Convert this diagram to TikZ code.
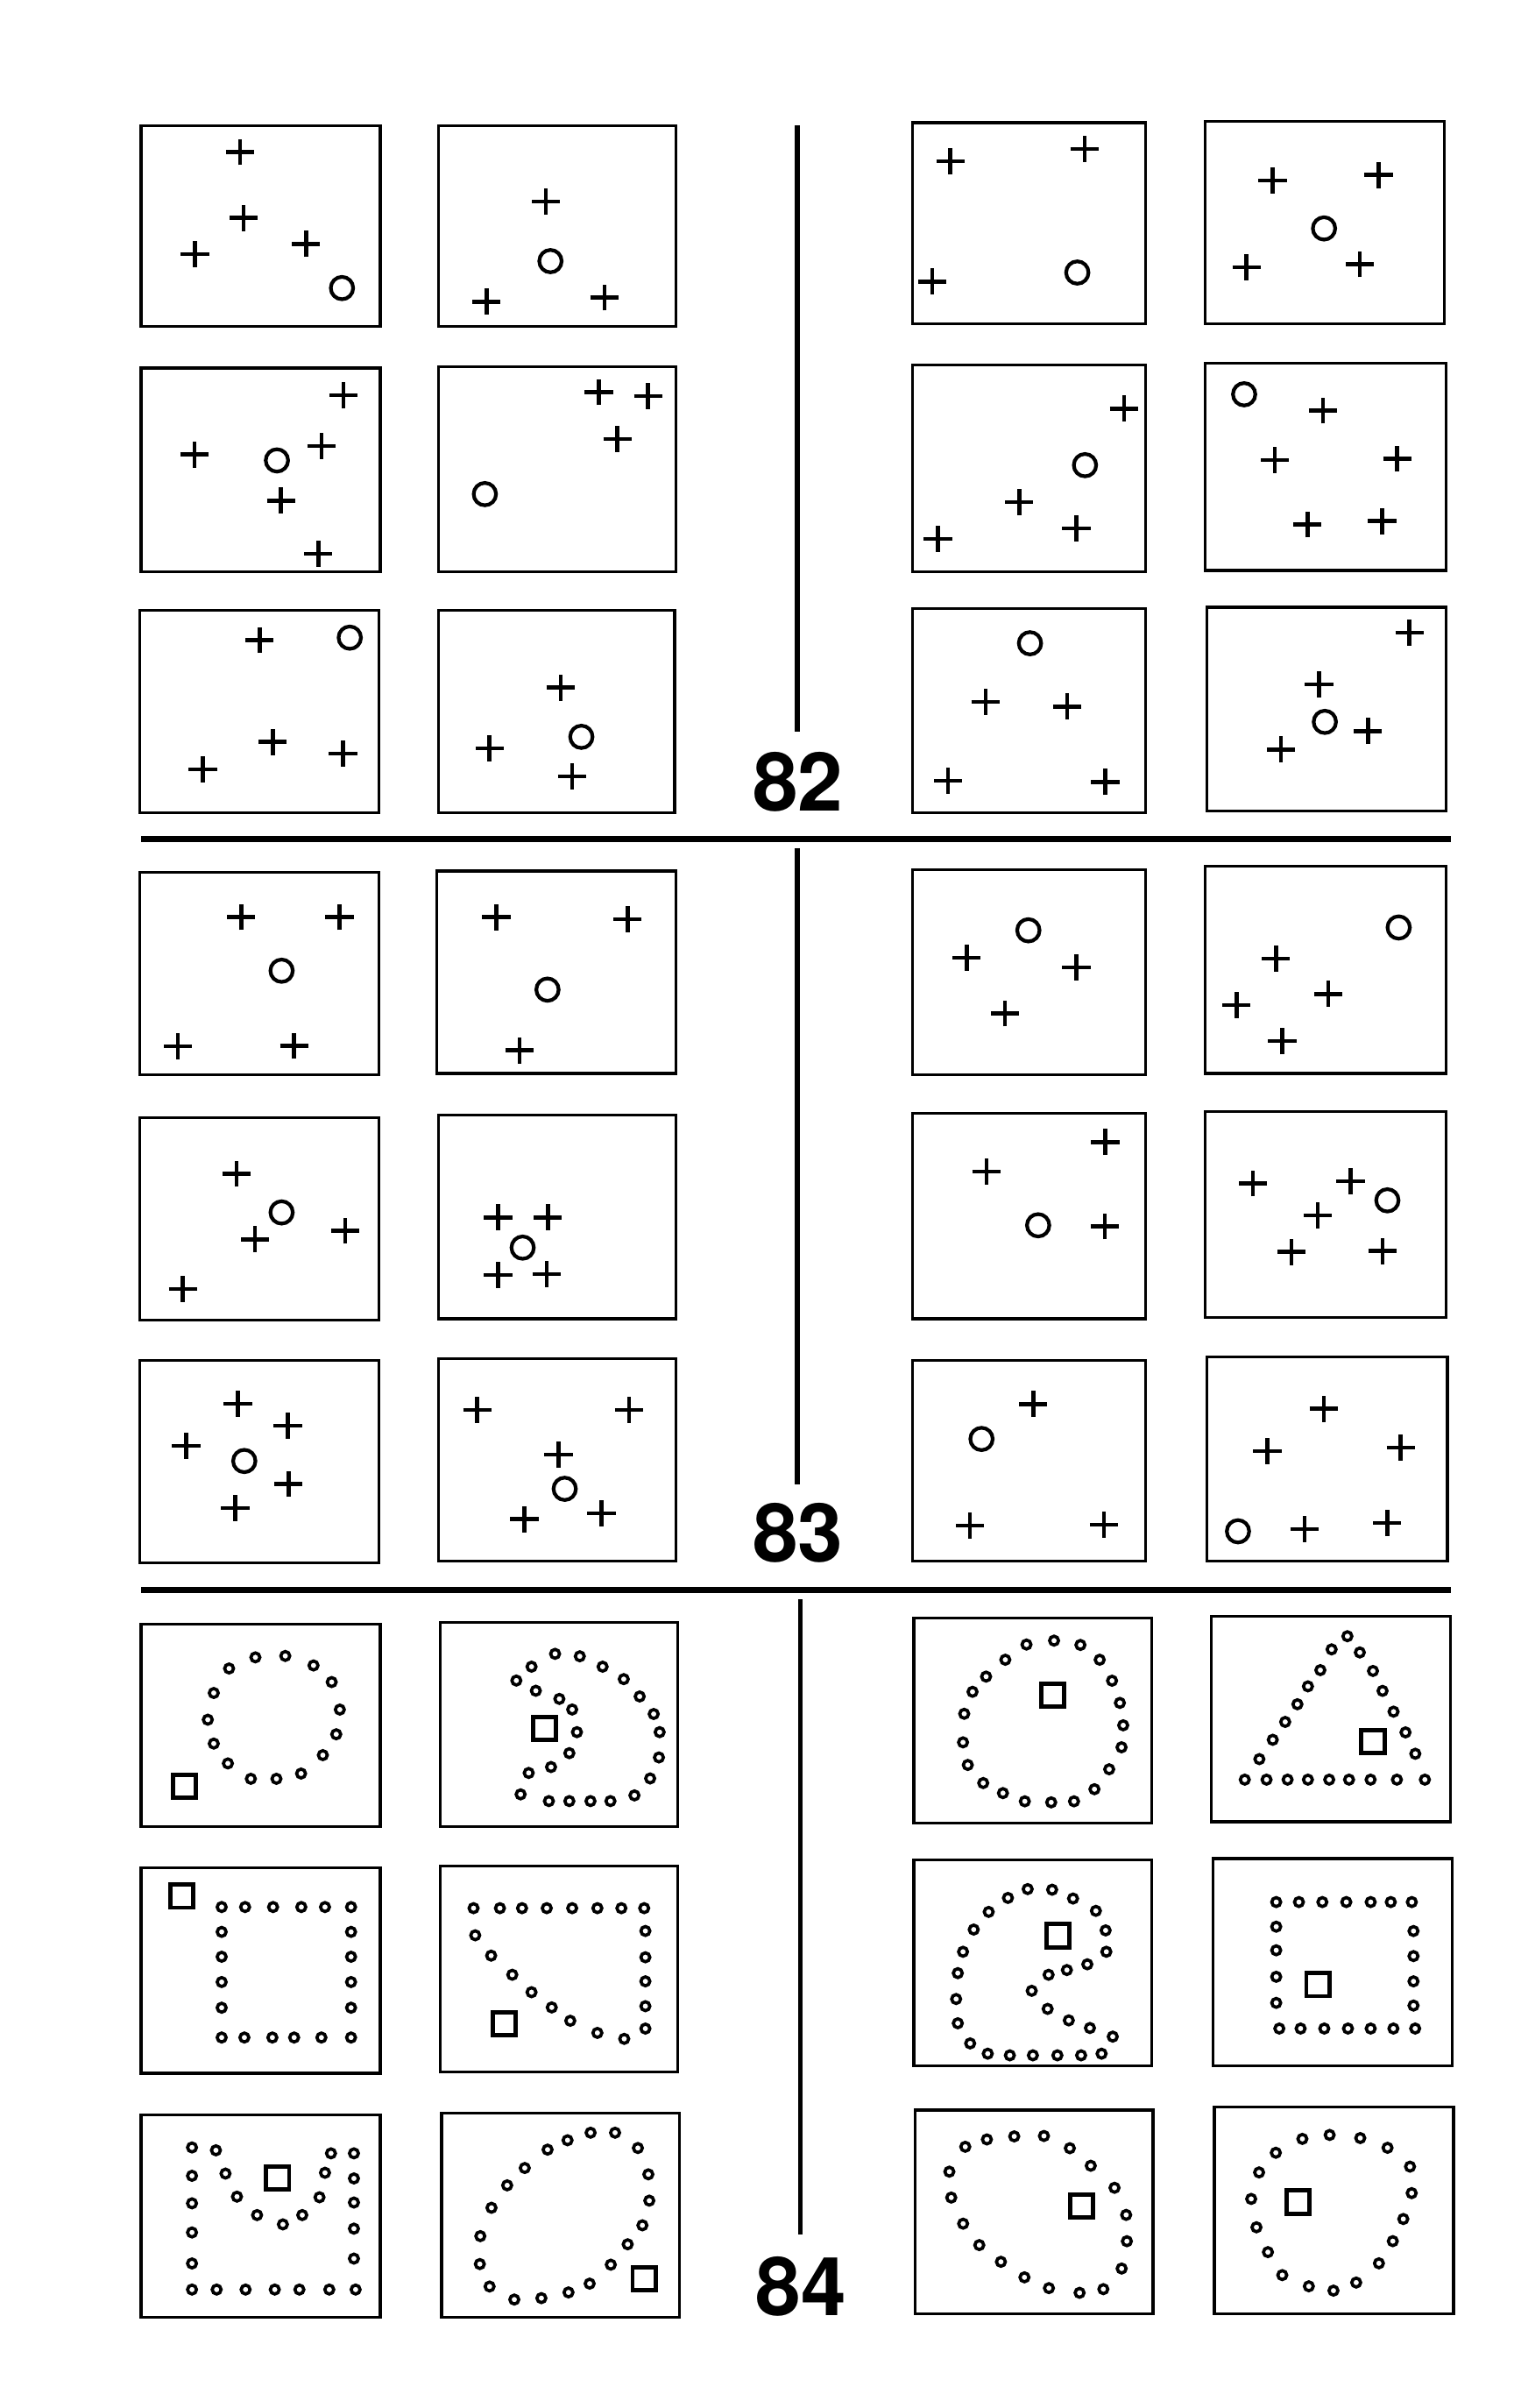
\documentclass[tikz,border=0pt]{standalone}
\usepackage{fontspec}
\newfontfamily\numfont{TeX Gyre Heros}
\usepackage{tikz}

\begin{document}
\begin{tikzpicture}[x=1pt,y=-1pt,
  panel/.style n args={4}{shift={(#1,#2)},x={(#3pt,0pt)},y={(0pt,-#4pt)}},
  boxline/.style={line width=1.8pt},
  ring/.style={line width=2.4pt},
  dot/.style={line width=2.1pt},
  sqmark/.style={line width=2.8pt},
  divider/.style={line width=3pt},
  sepline/.style={line width=3.8pt},
  num/.style={font=\numfont\bfseries\fontsize{53pt}{53pt}\selectfont,inner sep=0pt},
  plusmark/.pic={\draw[line width=2.6pt] (-9.2pt,0pt) -- (9.2pt,0pt) (0pt,-8.5pt) -- (0pt,8.5pt);}]
\useasboundingbox (0,0) rectangle (987.4,1570.3);

% problem 82
\begin{scope}[panel={92}{82}{156}{131}]
\draw[boxline] (0,0) rectangle (1,1);
\foreach \u/\v in {0.414/0.131,0.429/0.459,0.225/0.640,0.690/0.588} \pic at (\u,\v) {plusmark};
\draw[ring] (0.840,0.808) circle (7.3pt);
\end{scope}
\begin{scope}[panel={286}{82}{155}{131}]
\draw[boxline] (0,0) rectangle (1,1);
\foreach \u/\v in {0.452/0.378,0.202/0.876,0.698/0.855} \pic at (\u,\v) {plusmark};
\draw[ring] (0.471,0.674) circle (7.3pt);
\end{scope}
\begin{scope}[panel={595}{80}{152}{131}]
\draw[boxline] (0,0) rectangle (1,1);
\foreach \u/\v in {0.163/0.191,0.739/0.130,0.086/0.791} \pic at (\u,\v) {plusmark};
\draw[ring] (0.708,0.746) circle (7.3pt);
\end{scope}
\begin{scope}[panel={786}{79}{156}{132}]
\draw[boxline] (0,0) rectangle (1,1);
\foreach \u/\v in {0.282/0.293,0.725/0.266,0.173/0.722,0.646/0.707} \pic at (\u,\v) {plusmark};
\draw[ring] (0.497,0.530) circle (7.3pt);
\end{scope}

\begin{scope}[panel={92}{240}{156}{133}]
\draw[boxline] (0,0) rectangle (1,1);
\foreach \u/\v in {0.846/0.134,0.223/0.424,0.754/0.382,0.585/0.650,0.741/0.911} \pic at (\u,\v) {plusmark};
\draw[ring] (0.568,0.453) circle (7.3pt);
\end{scope}
\begin{scope}[panel={286}{239}{155}{134}]
\draw[boxline] (0,0) rectangle (1,1);
\foreach \u/\v in {0.675/0.125,0.882/0.143,0.753/0.353} \pic at (\u,\v) {plusmark};
\draw[ring] (0.195,0.621) circle (7.3pt);
\end{scope}
\begin{scope}[panel={595}{238}{152}{135}]
\draw[boxline] (0,0) rectangle (1,1);
\foreach \u/\v in {0.908/0.211,0.459/0.662,0.704/0.789,0.110/0.840} \pic at (\u,\v) {plusmark};
\draw[ring] (0.741,0.484) circle (7.3pt);
\end{scope}
\begin{scope}[panel={786}{237}{157}{135}]
\draw[boxline] (0,0) rectangle (1,1);
\foreach \u/\v in {0.489/0.227,0.289/0.467,0.798/0.460,0.425/0.778,0.735/0.762} \pic at (\u,\v) {plusmark};
\draw[ring] (0.162,0.149) circle (7.3pt);
\end{scope}

\begin{scope}[panel={91}{398}{156}{132}]
\draw[boxline] (0,0) rectangle (1,1);
\foreach \u/\v in {0.502/0.147,0.557/0.650,0.851/0.707,0.265/0.786} \pic at (\u,\v) {plusmark};
\draw[ring] (0.879,0.135) circle (7.3pt);
\end{scope}
\begin{scope}[panel={286}{398}{154}{132}]
\draw[boxline] (0,0) rectangle (1,1);
\foreach \u/\v in {0.517/0.382,0.216/0.681,0.566/0.820} \pic at (\u,\v) {plusmark};
\draw[ring] (0.605,0.625) circle (7.3pt);
\end{scope}
\begin{scope}[panel={595}{397}{152}{133}]
\draw[boxline] (0,0) rectangle (1,1);
\foreach \u/\v in {0.314/0.457,0.665/0.479,0.154/0.843,0.828/0.849} \pic at (\u,\v) {plusmark};
\draw[ring] (0.505,0.169) circle (7.3pt);
\end{scope}
\begin{scope}[panel={787}{396}{156}{133}]
\draw[boxline] (0,0) rectangle (1,1);
\foreach \u/\v in {0.848/0.124,0.470/0.378,0.674/0.607,0.310/0.697} \pic at (\u,\v) {plusmark};
\draw[ring] (0.494,0.562) circle (7.3pt);
\end{scope}

\node[num] (n82) at (520.5,510) {82};
\coordinate (v82) at (520,82);
\draw[divider] (v82) -- ([yshift=13pt]n82.north -| v82);
\draw[sepline] (92,547) -- (946,547);

% problem 83
\begin{scope}[panel={91}{569}{156}{132}]
\draw[boxline] (0,0) rectangle (1,1);
\foreach \u/\v in {0.425/0.220,0.836/0.220,0.161/0.858,0.646/0.856} \pic at (\u,\v) {plusmark};
\draw[ring] (0.594,0.485) circle (7.3pt);
\end{scope}
\begin{scope}[panel={285}{568}{156}{132}]
\draw[boxline] (0,0) rectangle (1,1);
\foreach \u/\v in {0.248/0.228,0.797/0.239,0.345/0.886} \pic at (\u,\v) {plusmark};
\draw[ring] (0.462,0.586) circle (7.3pt);
\end{scope}
\begin{scope}[panel={595}{567}{152}{134}]
\draw[boxline] (0,0) rectangle (1,1);
\foreach \u/\v in {0.233/0.429,0.704/0.476,0.398/0.700} \pic at (\u,\v) {plusmark};
\draw[ring] (0.498,0.296) circle (7.3pt);
\end{scope}
\begin{scope}[panel={786}{565}{157}{135}]
\draw[boxline] (0,0) rectangle (1,1);
\foreach \u/\v in {0.294/0.446,0.512/0.616,0.130/0.670,0.320/0.844} \pic at (\u,\v) {plusmark};
\draw[ring] (0.804,0.295) circle (7.3pt);
\end{scope}

\begin{scope}[panel={91}{729}{156}{132}]
\draw[boxline] (0,0) rectangle (1,1);
\foreach \u/\v in {0.406/0.276,0.483/0.600,0.860/0.557,0.181/0.845} \pic at (\u,\v) {plusmark};
\draw[ring] (0.594,0.467) circle (7.3pt);
\end{scope}
\begin{scope}[panel={286}{727}{155}{133}]
\draw[boxline] (0,0) rectangle (1,1);
\foreach \u/\v in {0.251/0.503,0.460/0.503,0.251/0.785,0.455/0.781} \pic at (\u,\v) {plusmark};
\draw[ring] (0.354,0.651) circle (7.3pt);
\end{scope}
\begin{scope}[panel={595}{726}{152}{134}]
\draw[boxline] (0,0) rectangle (1,1);
\foreach \u/\v in {0.828/0.140,0.318/0.284,0.826/0.550} \pic at (\u,\v) {plusmark};
\draw[ring] (0.540,0.545) circle (7.3pt);
\end{scope}
\begin{scope}[panel={786}{725}{157}{134}]
\draw[boxline] (0,0) rectangle (1,1);
\foreach \u/\v in {0.199/0.349,0.604/0.338,0.468/0.504,0.359/0.682,0.737/0.678} \pic at (\u,\v) {plusmark};
\draw[ring] (0.757,0.431) circle (7.3pt);
\end{scope}

\begin{scope}[panel={91}{887}{156}{132}]
\draw[boxline] (0,0) rectangle (1,1);
\foreach \u/\v in {0.411/0.215,0.620/0.324,0.195/0.423,0.623/0.611,0.400/0.731} \pic at (\u,\v) {plusmark};
\draw[ring] (0.438,0.498) circle (7.3pt);
\end{scope}
\begin{scope}[panel={286}{886}{155}{132}]
\draw[boxline] (0,0) rectangle (1,1);
\foreach \u/\v in {0.163/0.254,0.802/0.254,0.505/0.474,0.361/0.793,0.686/0.764} \pic at (\u,\v) {plusmark};
\draw[ring] (0.531,0.643) circle (7.3pt);
\end{scope}
\begin{scope}[panel={595}{887}{152}{131}]
\draw[boxline] (0,0) rectangle (1,1);
\foreach \u/\v in {0.519/0.218,0.248/0.823,0.822/0.819} \pic at (\u,\v) {plusmark};
\draw[ring] (0.297,0.392) circle (7.3pt);
\end{scope}
\begin{scope}[panel={787}{885}{157}{133}]
\draw[boxline] (0,0) rectangle (1,1);
\foreach \u/\v in {0.486/0.253,0.252/0.461,0.806/0.444,0.406/0.843,0.750/0.814} \pic at (\u,\v) {plusmark};
\draw[ring] (0.130,0.854) circle (7.3pt);
\end{scope}

\node[num] (n83) at (520.5,999.5) {83};
\coordinate (v83) at (520,553);
\draw[divider] (v83) -- ([yshift=12pt]n83.north -| v83);
\draw[sepline] (92,1037) -- (946,1037);

% problem 84
\begin{scope}[panel={92}{1059}{156}{132}]
\draw[boxline] (0,0) rectangle (1,1);
\foreach \u/\v in {0.368/0.220,0.478/0.165,0.603/0.158,0.721/0.205,0.797/0.287,0.831/0.423,0.816/0.545,0.760/0.648,
  0.669/0.739,0.566/0.765,0.459/0.765,0.363/0.689,0.304/0.591,0.279/0.473,0.304/0.341}
  \draw[dot] (\u,\v) circle (2.9pt);
\draw[sqmark] (0.182,0.802) ++(-7.5pt,-7.5pt) rectangle ++(15pt,15pt);
\end{scope}
\begin{scope}[panel={287}{1058}{155}{133}]
\draw[boxline] (0,0) rectangle (1,1);
\foreach \u/\v in {0.321/0.285,0.385/0.217,0.484/0.154,0.588/0.166,0.684/0.217,0.773/0.278,0.840/0.363,0.899/0.449,
  0.924/0.538,0.921/0.662,0.884/0.765,0.818/0.848,0.717/0.876,0.633/0.876,0.544/0.876,0.458/0.876,0.339/0.843,
  0.373/0.738,0.467/0.709,0.544/0.641,0.576/0.538,0.556/0.427,0.502/0.375,0.403/0.335}
  \draw[dot] (\u,\v) circle (2.9pt);
\draw[sqmark] (0.439,0.521) ++(-7.5pt,-7.5pt) rectangle ++(15pt,15pt);
\end{scope}
\begin{scope}[panel={596}{1055}{155}{134}]
\draw[boxline] (0,0) rectangle (1,1);
\foreach \u/\v in {0.590/0.111,0.701/0.132,0.782/0.204,0.834/0.306,0.867/0.414,0.881/0.523,0.874/0.630,0.822/0.737,
  0.760/0.834,0.674/0.893,0.578/0.898,0.467/0.893,0.375/0.853,0.292/0.804,0.227/0.716,0.207/0.606,0.212/0.467,
  0.247/0.360,0.304/0.286,0.385/0.204,0.474/0.130}
  \draw[dot] (\u,\v) circle (2.9pt);
\draw[sqmark] (0.585,0.376) ++(-7.5pt,-7.5pt) rectangle ++(15pt,15pt);
\end{scope}
\begin{scope}[panel={790}{1054}{156}{134}]
\draw[boxline] (0,0) rectangle (1,1);
\foreach \u/\v in {0.569/0.097,0.503/0.161,0.456/0.262,0.404/0.341,0.360/0.428,0.309/0.514,0.257/0.601,0.201/0.695,
  0.621/0.176,0.676/0.266,0.716/0.363,0.762/0.464,0.812/0.565,0.853/0.669,
  0.140/0.795,0.231/0.795,0.319/0.795,0.404/0.795,0.493/0.795,0.576/0.795,0.666/0.795,0.776/0.795,0.893/0.795}
  \draw[dot] (\u,\v) circle (2.9pt);
\draw[sqmark] (0.676,0.609) ++(-7.5pt,-7.5pt) rectangle ++(15pt,15pt);
\end{scope}

\begin{scope}[panel={92}{1218}{156}{134}]
\draw[boxline] (0,0) rectangle (1,1);
\foreach \u/\v in {0.337/0.191,0.435/0.191,0.552/0.191,0.670/0.191,0.769/0.191,0.878/0.191,
  0.337/0.312,0.337/0.433,0.337/0.556,0.337/0.681,0.878/0.312,0.878/0.433,0.878/0.556,0.878/0.681,
  0.337/0.826,0.432/0.826,0.549/0.826,0.640/0.826,0.754/0.826,0.878/0.826}
  \draw[dot] (\u,\v) circle (2.9pt);
\draw[sqmark] (0.171,0.138) ++(-7.5pt,-7.5pt) rectangle ++(15pt,15pt);
\end{scope}
\begin{scope}[panel={287}{1217}{155}{134}]
\draw[boxline] (0,0) rectangle (1,1);
\foreach \u/\v in {0.141/0.204,0.252/0.204,0.345/0.204,0.449/0.204,0.556/0.204,0.662/0.204,0.763/0.204,0.859/0.204,
  0.864/0.315,0.864/0.443,0.864/0.560,0.864/0.681,0.864/0.790,
  0.148/0.336,0.215/0.435,0.304/0.528,0.385/0.613,0.470/0.687,0.548/0.752,0.662/0.811,0.775/0.840}
  \draw[dot] (\u,\v) circle (2.9pt);
\draw[sqmark] (0.270,0.767) ++(-7.5pt,-7.5pt) rectangle ++(15pt,15pt);
\end{scope}
\begin{scope}[panel={596}{1213}{155}{134}]
\draw[boxline] (0,0) rectangle (1,1);
\foreach \u/\v in {0.237/0.892,0.185/0.794,0.178/0.676,0.185/0.550,0.207/0.446,0.252/0.338,0.315/0.252,0.396/0.184,
  0.479/0.141,0.582/0.144,0.670/0.187,0.766/0.247,0.807/0.342,0.810/0.446,
  0.730/0.507,0.644/0.535,0.567/0.558,0.496/0.636,0.563/0.724,0.652/0.780,0.741/0.817,0.837/0.859,
  0.311/0.942,0.404/0.950,0.501/0.950,0.604/0.950,0.704/0.950,0.790/0.942}
  \draw[dot] (\u,\v) circle (2.9pt);
\draw[sqmark] (0.607,0.368) ++(-7.5pt,-7.5pt) rectangle ++(15pt,15pt);
\end{scope}
\begin{scope}[panel={791}{1212}{156}{135}]
\draw[boxline] (0,0) rectangle (1,1);
\foreach \u/\v in {0.265/0.210,0.360/0.210,0.458/0.210,0.558/0.210,0.660/0.210,0.744/0.210,0.832/0.210,
  0.265/0.329,0.265/0.443,0.265/0.571,0.265/0.697,0.839/0.350,0.839/0.471,0.839/0.593,0.839/0.710,
  0.278/0.821,0.367/0.821,0.466/0.821,0.565/0.821,0.660/0.821,0.755/0.821,0.846/0.821}
  \draw[dot] (\u,\v) circle (2.9pt);
\draw[sqmark] (0.439,0.609) ++(-7.5pt,-7.5pt) rectangle ++(15pt,15pt);
\end{scope}

\begin{scope}[panel={92}{1379}{156}{132}]
\draw[boxline] (0,0) rectangle (1,1);
\foreach \u/\v in {0.213/0.162,0.213/0.302,0.213/0.438,0.213/0.582,0.213/0.735,
  0.213/0.864,0.316/0.864,0.437/0.864,0.559/0.864,0.662/0.864,0.787/0.864,0.897/0.864,
  0.890/0.191,0.890/0.315,0.890/0.434,0.890/0.563,0.890/0.711,0.794/0.191,
  0.313/0.176,0.353/0.291,0.401/0.405,0.485/0.496,0.593/0.542,0.674/0.496,0.746/0.408,0.769/0.287}
  \draw[dot] (\u,\v) circle (2.9pt);
\draw[sqmark] (0.571,0.312) ++(-7.5pt,-7.5pt) rectangle ++(15pt,15pt);
\end{scope}
\begin{scope}[panel={288}{1378}{155}{133}]
\draw[boxline] (0,0) rectangle (1,1);
\foreach \u/\v in {0.202/0.850,0.161/0.740,0.163/0.603,0.210/0.464,0.276/0.354,0.350/0.269,0.446/0.179,0.530/0.133,
  0.627/0.096,0.730/0.096,0.826/0.171,0.870/0.300,0.874/0.429,0.845/0.550,0.783/0.643,0.712/0.743,
  0.623/0.836,0.534/0.879,0.420/0.907,0.306/0.914}
  \draw[dot] (\u,\v) circle (2.9pt);
\draw[sqmark] (0.852,0.811) ++(-7.5pt,-7.5pt) rectangle ++(15pt,15pt);
\end{scope}
\begin{scope}[panel={597}{1376}{155}{133}]
\draw[boxline] (0,0) rectangle (1,1);
\foreach \u/\v in {0.210/0.180,0.301/0.144,0.416/0.129,0.541/0.127,0.650/0.187,0.738/0.273,0.838/0.381,0.887/0.514,
  0.890/0.643,0.868/0.777,0.791/0.878,0.691/0.896,0.562/0.873,0.459/0.820,0.360/0.744,0.269/0.662,
  0.201/0.557,0.151/0.429,0.143/0.302}
  \draw[dot] (\u,\v) circle (2.9pt);
\draw[sqmark] (0.699,0.471) ++(-7.5pt,-7.5pt) rectangle ++(15pt,15pt);
\end{scope}
\begin{scope}[panel={792}{1374}{156}{135}]
\draw[boxline] (0,0) rectangle (1,1);
\foreach \u/\v in {0.257/0.221,0.368/0.154,0.482/0.135,0.610/0.150,0.724/0.197,0.818/0.288,0.825/0.416,0.790/0.541,
  0.746/0.648,0.688/0.755,0.593/0.848,0.498/0.887,0.395/0.866,0.284/0.812,0.224/0.701,0.176/0.581,
  0.154/0.444,0.187/0.316}
  \draw[dot] (\u,\v) circle (2.9pt);
\draw[sqmark] (0.349,0.459) ++(-7.5pt,-7.5pt) rectangle ++(15pt,15pt);
\end{scope}

\node[num] (n84) at (522.5,1491) {84};
\coordinate (v84) at (522,1043);
\draw[divider] (v84) -- ([yshift=14pt]n84.north -| v84);
\end{tikzpicture}
\end{document}
